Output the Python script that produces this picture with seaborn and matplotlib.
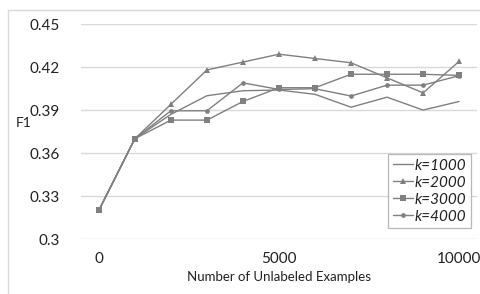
import matplotlib
matplotlib.use('Agg')
import matplotlib.pyplot as plt
import seaborn as sns
import pandas as pd
from matplotlib.lines import Line2D

# data
unlabeled = [0, 1000, 2000, 3000, 4000, 5000, 6000, 7000, 8000, 9000, 10000]
k1000 = [0.320, 0.370, 0.387, 0.400, 0.4035, 0.404, 0.401, 0.392, 0.399, 0.390, 0.396]
k2000 = [0.320, 0.370, 0.394, 0.418, 0.4235, 0.429, 0.426, 0.423, 0.4125, 0.402, 0.424]
k3000 = [0.320, 0.370, 0.383, 0.383, 0.396, 0.4056, 0.4056, 0.415, 0.415, 0.415, 0.4142]
k4000 = [0.320, 0.370, 0.3895, 0.3895, 0.409, 0.4044, 0.4049, 0.3998, 0.4074, 0.4074, 0.414]
series_names = ['k=1000', 'k=2000', 'k=3000', 'k=4000']
y_ticks = [0.3, 0.33, 0.36, 0.39, 0.42, 0.45]
y_tick_labels = ['0.3', '0.33', '0.36', '0.39', '0.42', '0.45']
x_ticks = [0, 5000, 10000]

df = pd.DataFrame({'x': unlabeled, 'k=1000': k1000, 'k=2000': k2000,
                   'k=3000': k3000, 'k=4000': k4000})

sns.set_style('white')
plt.rcParams['font.family'] = ['Lato', 'DejaVu Sans']

fig = plt.figure(figsize=(4.81, 2.94), dpi=100)
ax = fig.add_axes([0.168, 0.187, 0.824, 0.731])

grey = '#808080'
markers = {'k=1000': None, 'k=2000': '^', 'k=3000': 's', 'k=4000': 'o'}
sizes = {'k=1000': 0, 'k=2000': 3.8, 'k=3000': 3.8, 'k=4000': 3.4}
zorders = {'k=1000': 3, 'k=2000': 4, 'k=3000': 6, 'k=4000': 5}

for name in series_names:
    sns.lineplot(data=df, x='x', y=name, ax=ax, color=grey, linewidth=1.0,
                 marker=markers[name], markersize=sizes[name],
                 markeredgewidth=0, label=name, zorder=zorders[name])

ax.set_xlim(-500, 10500)
ax.set_ylim(0.3, 0.45)
ax.set_xticks(x_ticks)
ax.set_xticklabels([str(v) for v in x_ticks])
ax.set_yticks(y_ticks)
ax.set_yticklabels(y_tick_labels)
ax.tick_params(axis='both', length=0, labelsize=11, colors='#222222')
ax.tick_params(axis='y', pad=15)
ax.tick_params(axis='x', pad=9)
ax.grid(axis='y', color='#d9d9d9', linewidth=1.0)
ax.grid(axis='x', visible=False)
for sp in ax.spines.values():
    sp.set_visible(False)

ax.set_xlabel('Number of Unlabeled Examples', fontsize=9.5, color='#222222', labelpad=4)
ax.set_ylabel('F1', fontsize=10, color='#222222', rotation=0, labelpad=0)
ax.yaxis.set_label_coords(-0.143, 0.51)

leg = ax.legend(loc='lower right', bbox_to_anchor=(0.985, 0.05), frameon=True,
                fancybox=False, edgecolor='#a6a6a6', fontsize=11,
                handlelength=1.3, handletextpad=0.15, borderpad=0.3,
                labelspacing=0.2, borderaxespad=0)
leg.get_frame().set_linewidth(0.9)
for t in leg.get_texts():
    t.set_fontstyle('italic')
    t.set_color('#222222')

# chart area border (only left and top visible in the crop)
fig.add_artist(Line2D([8 / 481, 8 / 481], [0, 1 - 10 / 294], color='#d9d9d9', linewidth=1))
fig.add_artist(Line2D([8 / 481, 1], [1 - 10 / 294, 1 - 10 / 294], color='#d9d9d9', linewidth=1))

plt.savefig('out.png', dpi=100)
